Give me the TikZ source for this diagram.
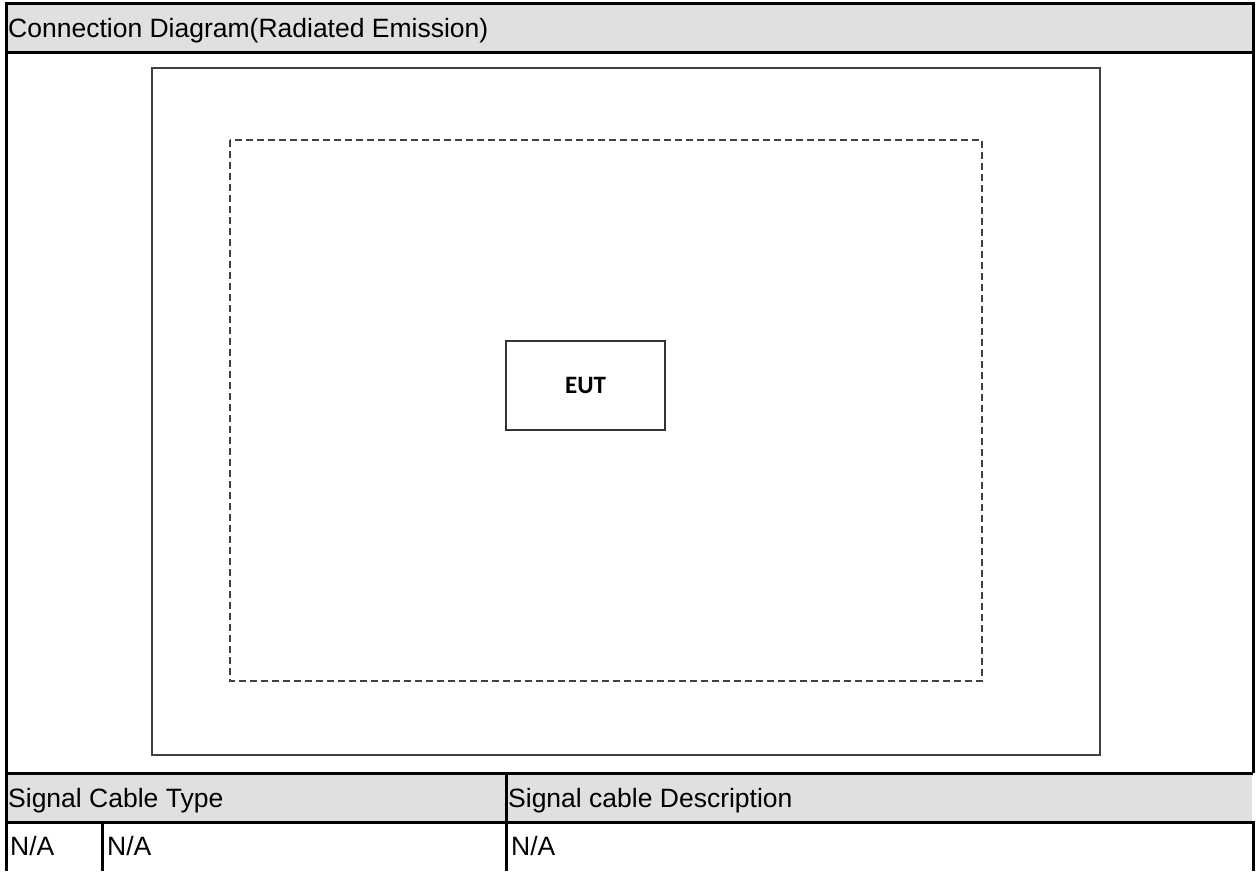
\documentclass[tikz,border=0pt]{standalone}
\usepackage{fontspec}
\setmainfont{Liberation Sans}
\newfontfamily\eutfont{Carlito}
\usetikzlibrary{positioning}

\begin{document}
\begin{tikzpicture}
  [x=1pt, y=-1pt,
   cell/.style={anchor=base west, inner sep=0pt, font=\fontsize{26.5}{30}\selectfont},
   rule/.style={line width=3pt},
   frame/.style={draw=black!75, line width=2.4pt},
   area/.style={draw=black!75, line width=2pt, dash pattern=on 7pt off 4pt},
   box/.style={draw=black!80, line width=2.4pt, minimum width=159pt, minimum height=89pt,
     inner sep=0pt, font=\eutfont\bfseries\fontsize{25}{28}\selectfont}]
  \useasboundingbox (0,0) rectangle (1256,871);

  % header rows
  \fill [black!12] (6,3) rectangle (1253,52);
  \fill [black!12] (6,773) rectangle (1252,822);

  % table rules
  \draw [rule] (6,871) -- (6,3) -- (1253,3) -- (1253,773);
  \draw [rule] (6,52) -- (1253,52);
  \draw [rule] (6,773) -- (1253,773);
  \draw [rule] (6,822) -- (1253,822) -- (1253,871);
  \draw [rule] (506,773) -- (506,871);
  \draw [rule] (102,822) -- (102,871);

  % diagram
  \draw [frame] (152,68) rectangle (1100,755);
  \draw [area] (230,140) rectangle (982,681);
  \node [box] (eut) at (585.5,385.5) {EUT};

  % texts
  \node [cell] (title) at (8,37) {Connection Diagram(Radiated Emission)};
  \node [cell] (type) at (8,807) {Signal Cable Type};
  \node [cell] (desc) at (508,807) {Signal cable Description};
  \node [cell] (na1) at (10,855) {N/A};
  \node [cell] (na2) at (107,855) {N/A};
  \node [cell] (na3) at (511,855) {N/A};
\end{tikzpicture}
\end{document}
